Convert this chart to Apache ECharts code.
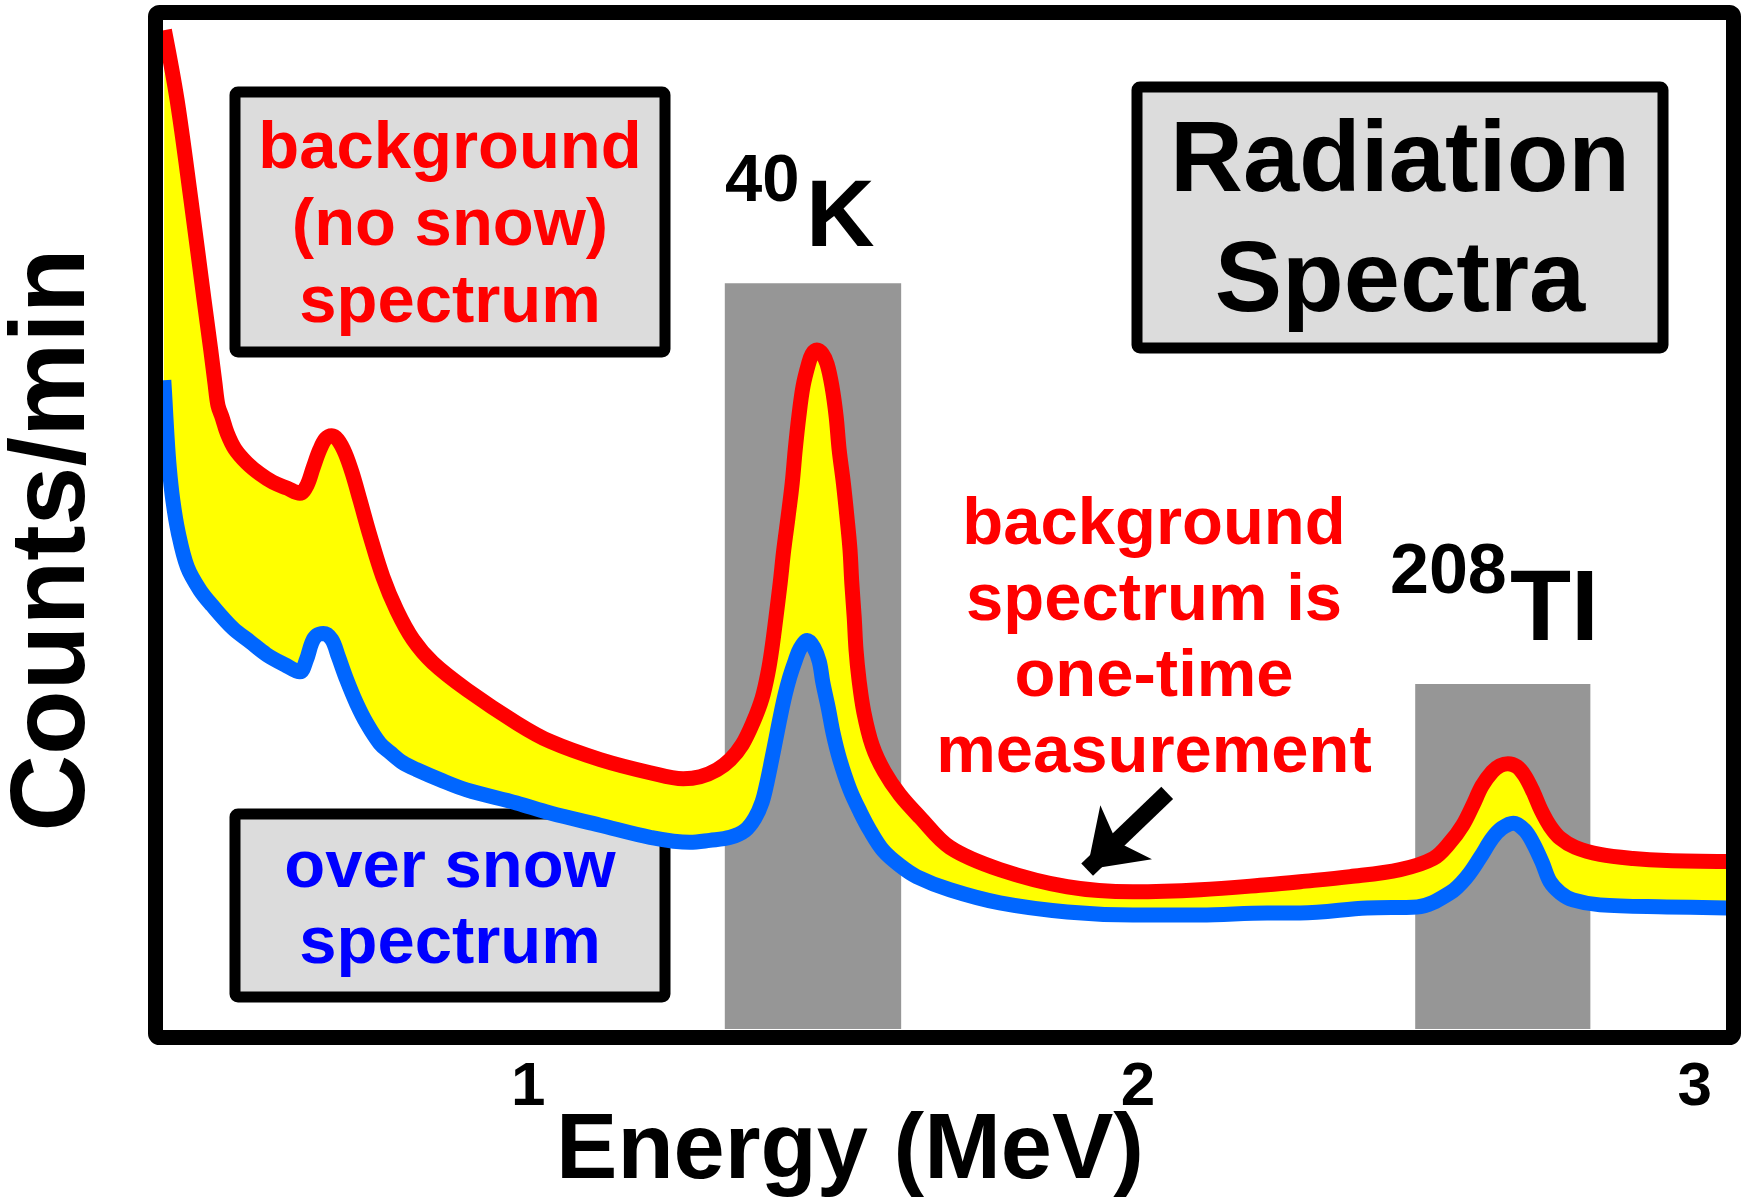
<!DOCTYPE html>
<html>
<head>
<meta charset="utf-8">
<script src="https://cdn.jsdelivr.net/npm/echarts@6/dist/echarts.min.js"></script>
<style>
html,body{margin:0;padding:0;background:#ffffff;}
#chart{width:1753px;height:1198px;}
</style>
</head>
<body>
<div id="chart"></div>
<script>
// ---- data (energy in MeV, counts in arbitrary units 0..100) ----
const redEnergy = [
  0.404,0.425,0.448,0.470,0.481,0.488,0.493,0.500,0.508,0.521,
  0.541,0.563,0.584,0.608,0.629,0.641,0.651,0.662,0.672,0.682,
  0.692,0.704,0.716,0.729,0.746,0.767,0.790,0.817,0.850,0.907,
  0.990,1.045,1.128,1.211,1.266,1.294,1.322,1.344,1.364,1.382,
  1.397,1.407,1.413,1.420,1.427,1.433,1.440,1.447,1.452,1.458,
  1.465,1.474,1.480,1.488,1.497,1.505,1.513,1.520,1.525,1.532,
  1.538,1.543,1.546,1.550,1.553,1.558,1.566,1.580,1.600,1.626,
  1.659,1.709,1.792,1.904,2.013,2.125,2.236,2.291,2.374,2.457,
  2.512,2.540,2.561,2.578,2.593,2.610,2.623,2.636,2.651,2.664,
  2.678,2.691,2.706,2.723,2.748,2.789,2.844,2.900,3.000];
const redCounts = [
  99.0,92.1,82.2,72.2,67.3,64.0,61.8,60.6,59.1,57.5,
  56.1,55.0,54.2,53.6,53.1,53.9,55.6,57.4,58.5,58.8,
  58.4,57.1,55.1,52.4,48.8,44.8,41.5,38.6,36.3,33.6,
  30.3,28.5,26.7,25.4,24.8,25.0,25.7,26.7,28.2,30.4,
  32.8,35.4,37.6,40.8,44.2,47.5,50.7,54.1,57.4,60.7,
  63.7,65.9,66.9,67.3,66.9,65.9,63.7,60.7,57.4,54.1,
  50.7,47.5,44.2,40.8,37.6,34.6,31.4,28.1,25.5,23.2,
  21.0,18.0,15.8,14.1,13.6,13.8,14.3,14.6,15.1,15.8,
  16.9,18.5,20.2,22.2,24.1,25.5,26.1,26.3,26.0,25.1,
  23.5,21.7,20.1,18.9,18.0,17.3,16.9,16.7,16.6];

const blueEnergy = [
  0.403,0.405,0.408,0.412,0.418,0.427,0.442,0.463,0.483,0.518,
  0.546,0.574,0.604,0.629,0.640,0.649,0.657,0.668,0.682,0.693,
  0.707,0.723,0.740,0.762,0.779,0.800,0.823,0.862,0.906,0.989,
  1.045,1.128,1.211,1.277,1.310,1.344,1.369,1.385,1.397,1.405,
  1.413,1.420,1.427,1.435,1.443,1.452,1.460,1.472,1.483,1.492,
  1.498,1.507,1.515,1.526,1.543,1.560,1.576,1.598,1.626,1.654,
  1.709,1.792,1.904,2.013,2.125,2.236,2.291,2.402,2.485,2.540,
  2.568,2.590,2.610,2.626,2.645,2.664,2.678,2.693,2.706,2.723,
  2.744,2.789,2.900,3.000];
const blueCounts = [
  64.3,62.3,59.1,55.7,52.4,49.2,45.8,43.5,42.0,39.7,
  38.4,37.1,36.1,35.4,36.6,38.3,39.0,39.2,38.6,36.9,
  34.6,32.3,30.3,28.3,27.4,26.4,25.7,24.7,23.7,22.4,
  21.4,20.2,19.0,18.5,18.7,19.0,19.7,20.9,22.5,24.4,
  26.7,28.8,30.9,33.1,34.9,36.5,37.7,38.5,37.8,36.4,
  34.3,31.8,29.3,26.7,23.7,21.5,19.7,17.7,16.2,15.1,
  13.8,12.5,11.6,11.3,11.3,11.5,11.5,12.0,12.1,13.5,
  15.1,17.0,18.9,19.9,20.4,19.7,18.4,16.5,14.6,13.5,
  12.8,12.3,12.1,12.0];

// shaded peak windows (40K and 208Tl)
const bandStart = [1.335, 2.482];
const bandEnd   = [1.628, 2.773];
const bandTop   = [73.9, 34.2];

// x axis tick labels
const xTickValues = [1, 2, 3];
const xTickLabels = ['1', '2', '3'];

// arrow pointing at the background spectrum
const arrowFrom = [2.070, 23.4];
const arrowTo   = [1.937, 15.8];

// ---- chart ----
const FONT = '"Liberation Sans", Arial, Helvetica, sans-serif';
const chart = echarts.init(document.getElementById('chart'), null, {renderer: 'canvas'});

function pairs(xs, ys) { return xs.map((x, i) => [x, ys[i]]); }

function txt(text, x, y, size, color, align, extra) {
  return Object.assign({
    type: 'text', x: x, y: y, z: 100, silent: true,
    style: {
      text: text, fill: color,
      font: 'bold ' + size + 'px ' + FONT,
      align: align, textAlign: align,
      verticalAlign: 'middle', textVerticalAlign: 'middle',
      lineHeight: (extra && extra.lh) || size
    }
  }, extra && extra.el ? extra.el : {});
}

const SMOOTH = 0.35;
const tickFont = {fontSize: 62, fontWeight: 'bold', fontFamily: FONT, color: '#000'};

const option = {
  animation: false,
  backgroundColor: '#ffffff',
  grid: {left: 162, right: 26, top: 20, bottom: 169, containLabel: false},
  xAxis: {
    type: 'value', min: 0.4, max: 3.0,
    axisLine: {show: false}, axisTick: {show: false}, splitLine: {show: false},
    axisLabel: Object.assign({
      customValues: xTickValues,
      formatter: function (v) {
        const i = xTickValues.indexOf(v);
        return i >= 0 ? '{t' + i + '|' + xTickLabels[i] + '}' : '';
      },
      margin: 28, alignMaxLabel: 'right',
      rich: {
        t0: Object.assign({padding: [0, 0, 0, 10]}, tickFont),
        t1: Object.assign({padding: [0, 0, 0, 26]}, tickFont),
        t2: Object.assign({padding: [0, 15, 0, 0]}, tickFont)
      }
    }, tickFont)
  },
  yAxis: {type: 'value', min: 0, max: 100, show: false},
  series: [
    {
      name: 'peak windows', type: 'line', data: [], z: 1, silent: true,
      markArea: {
        silent: true,
        itemStyle: {color: '#969696'},
        data: bandStart.map((s, i) => [{xAxis: s, yAxis: 0}, {xAxis: bandEnd[i], yAxis: bandTop[i]}])
      }
    },
    {
      name: 'difference', type: 'custom', z: 2, silent: true,
      data: [[1.5, 50]],
      renderItem: function (params, api) {
        const pts = [];
        for (let i = 0; i < redEnergy.length; i++) pts.push(api.coord([redEnergy[i], redCounts[i]]));
        for (let i = blueEnergy.length - 1; i >= 0; i--) pts.push(api.coord([blueEnergy[i], blueCounts[i]]));
        return {type: 'polygon', shape: {points: pts}, style: {fill: '#ffff00', stroke: null}};
      }
    },
    {
      name: 'over snow spectrum', type: 'line', z: 3,
      data: pairs(blueEnergy, blueCounts),
      smooth: SMOOTH, symbol: 'none', silent: true,
      lineStyle: {color: '#0066ff', width: 15, cap: 'butt', join: 'round'}
    },
    {
      name: 'background (no snow) spectrum', type: 'line', z: 4,
      data: pairs(redEnergy, redCounts),
      smooth: SMOOTH, symbol: 'none', silent: true,
      lineStyle: {color: '#ff0000', width: 15, cap: 'butt', join: 'round'},
      markLine: {
        silent: true, animation: false,
        symbol: ['none', 'arrow'], symbolSize: [56, 54],
        itemStyle: {color: '#000'},
        lineStyle: {color: '#000', width: 17, type: 'solid'},
        label: {show: false},
        data: [[{coord: arrowFrom}, {coord: arrowTo}]]
      }
    }
  ],
  graphic: [
    // plot frame
    {type: 'rect', z: 90, silent: true, shape: {x: 155.5, y: 12.5, width: 1578, height: 1025, r: 4},
     style: {fill: null, stroke: '#000', lineWidth: 15}},
    // boxes
    {type: 'rect', z: 1, silent: true, shape: {x: 235, y: 92, width: 430, height: 260, r: 3},
     style: {fill: '#dcdcdc', stroke: '#000', lineWidth: 11}},
    {type: 'rect', z: 1, silent: true, shape: {x: 235, y: 814, width: 430, height: 183, r: 3},
     style: {fill: '#dcdcdc', stroke: '#000', lineWidth: 11}},
    {type: 'rect', z: 1, silent: true, shape: {x: 1137, y: 87, width: 526, height: 261, r: 3},
     style: {fill: '#dcdcdc', stroke: '#000', lineWidth: 11}},
    // texts
    txt('background\n(no snow)\nspectrum', 450, 227, 67, '#ff0000', 'center', {lh: 77}),
    txt('over snow\nspectrum', 450, 907, 67, '#0000ff', 'center', {lh: 76}),
    txt('Radiation\nSpectra', 1400, 223, 101, '#000000', 'center', {lh: 120}),
    txt('background\nspectrum is\none-time\nmeasurement', 1154, 640, 67, '#ff0000', 'center', {lh: 76}),
    txt('40', 725, 183, 67, '#000000', 'left'),
    txt('K', 806, 220, 95, '#000000', 'left'),
    txt('208', 1390, 574, 70, '#000000', 'left'),
    txt('TI', 1510, 612, 100, '#000000', 'left'),
    txt('Energy (MeV)', 850, 1153, 92, '#000000', 'center'),
    txt('Counts/min', 55, 540, 106, '#000000', 'center', {el: {rotation: Math.PI / 2}})
  ]
};
chart.setOption(option);
</script>
</body>
</html>
